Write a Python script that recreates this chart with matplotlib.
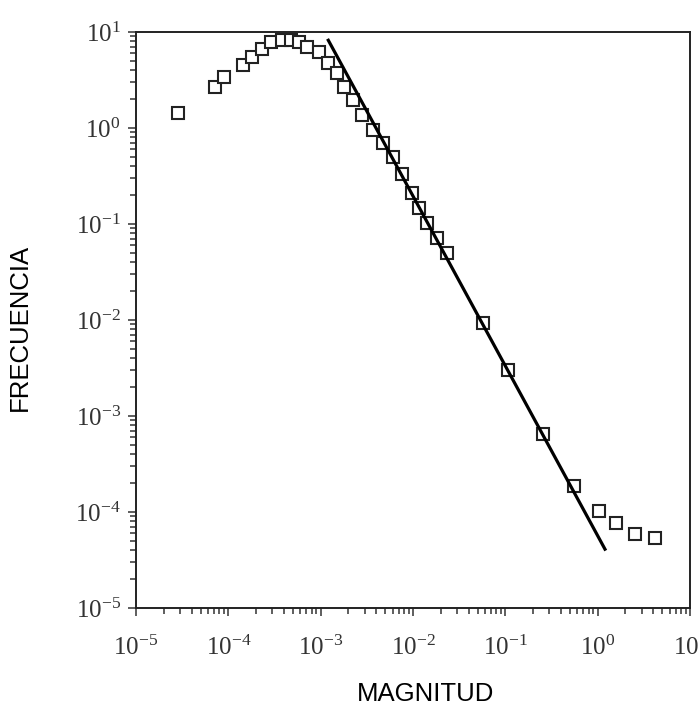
import matplotlib
matplotlib.use("Agg")
import matplotlib.pyplot as plt
from matplotlib.ticker import LogLocator, LogFormatterMathtext, NullFormatter

plt.rcParams['font.family'] = ['Liberation Serif', 'DejaVu Serif']
plt.rcParams['mathtext.fontset'] = 'custom'
plt.rcParams['mathtext.rm'] = 'Liberation Serif'
plt.rcParams['mathtext.it'] = 'Liberation Serif:italic'
plt.rcParams['mathtext.bf'] = 'Liberation Serif:bold'

magnitud = [2.87e-5, 7.18e-5, 9.0e-5, 1.43e-4, 1.82e-4, 2.30e-4, 2.88e-4, 3.79e-4,
            4.74e-4, 5.82e-4, 7.16e-4, 9.7e-4, 1.21e-3, 1.49e-3, 1.79e-3, 2.22e-3,
            2.81e-3, 3.69e-3, 4.73e-3, 6.03e-3, 7.55e-3, 9.68e-3, 1.16e-2, 1.41e-2,
            1.81e-2, 2.32e-2, 5.73e-2, 0.107, 0.256, 0.558, 1.04, 1.58, 2.54, 4.18]
frecuencia = [1.42, 2.69, 3.42, 4.53, 5.45, 6.6, 7.9, 8.25,
              8.25, 7.9, 7.03, 6.19, 4.81, 3.71, 2.69, 1.96,
              1.36, 0.95, 0.70, 0.50, 0.332, 0.212, 0.147, 0.102,
              0.0714, 0.0499, 9.3e-3, 3.0e-3, 6.5e-4, 1.87e-4, 1.03e-4, 7.6e-5, 5.9e-5, 5.4e-5]

# power-law fit line endpoints
fit_x = [1.21e-3, 1.20]
fit_y = [8.2, 4.1e-5]

fig = plt.figure(figsize=(6.99, 7.07), dpi=100)
ax = fig.add_axes([136/699, 1 - 608/707, (690 - 136)/699, (608 - 32)/707])

ax.plot(magnitud, frecuencia, linestyle='none', marker='s', markersize=9,
        markerfacecolor='white', markeredgecolor='#222222', markeredgewidth=1.5,
        clip_on=False, zorder=3)
ax.plot(fit_x, fit_y, color='black', linewidth=2.3, zorder=4)

ax.set_xscale('log')
ax.set_yscale('log')
ax.set_xlim(1e-5, 1e1)
ax.set_ylim(1e-5, 1e1)

for axis in (ax.xaxis, ax.yaxis):
    axis.set_major_locator(LogLocator(base=10, numticks=10))
    axis.set_minor_locator(LogLocator(base=10, subs=range(2, 10), numticks=20))
    axis.set_major_formatter(LogFormatterMathtext())
    axis.set_minor_formatter(NullFormatter())

ax.tick_params(which='both', direction='out', color='#333333', width=1.1,
               top=False, right=False, labelsize=18, labelcolor='#333333')
ax.tick_params(which='major', length=6)
ax.tick_params(which='minor', length=4)
ax.tick_params(axis='x', which='major', pad=14)
ax.tick_params(axis='y', which='major', pad=5)

for s in ax.spines.values():
    s.set_color('#222222')
    s.set_linewidth(1.4)

fig.text(20/699, 1 - 327/707, 'FRECUENCIA', rotation=90, ha='center', va='center',
         fontsize=18.5, family='Liberation Sans', color='black')
fig.text(426/699, 1 - 694/707, 'MAGNITUD', ha='center', va='center',
         fontsize=18.5, family='Liberation Sans', color='black')

fig.savefig('out.png', dpi=100)
